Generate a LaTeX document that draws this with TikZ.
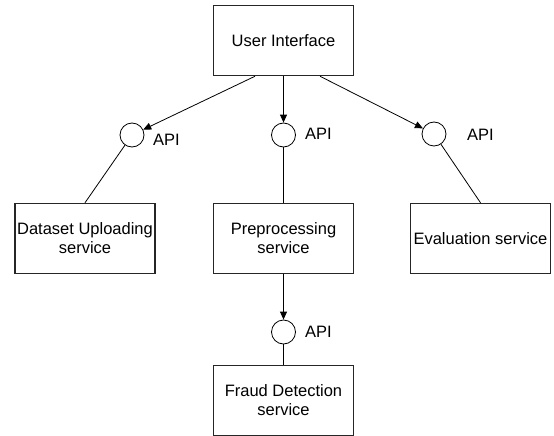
\documentclass[tikz,border=0pt]{standalone}
\usepackage{fontspec}
\setmainfont{Liberation Sans}
\usetikzlibrary{arrows.meta,positioning}
\tikzset{servicebox/.style={
    % The shape:
    rectangle,minimum width=140pt,minimum height=70pt,inner sep=0pt,
    % The rest
    line width=1.5pt,draw=black!85,fill=white,
    align=center,font=\fontsize{16.5}{19}\selectfont
  },
  apiport/.style={
    circle,draw,fill=white,minimum size=24pt,inner sep=0pt,line width=0.8pt
  },
  apilabel/.style={anchor=west,inner sep=0pt,font=\fontsize{16.5}{19}\selectfont},
  link/.style={line width=0.8pt},
  >={Triangle[length=8pt,width=7pt]}
}

\begin{document}
\begin{tikzpicture}[x=1pt,y=-1pt]
      \useasboundingbox (0,0) rectangle (554,436);

      % services
      \node (ui)     [servicebox] at (283.5,40.5) {User Interface};
      \node (upload) [servicebox] at (85,238.5) {Dataset Uploading\\service};
      \node (prep)   [servicebox] at (283.5,238.5) {Preprocessing\\service};
      \node (eval)   [servicebox] at (480.5,238.5) {Evaluation service};
      \node (fraud)  [servicebox] at (283.5,400.5) {Fraud Detection\\service};

      % interfaces
      \node (apiup)    [apiport] at (132,135) {};
      \node (apiprep)  [apiport] at (283.5,135) {};
      \node (apieval)  [apiport] at (434,134) {};
      \node (apifraud) [apiport] at (283.5,332) {};

      \node (lblup)    [apilabel] at (153,140) {API};
      \node (lblprep)  [apilabel] at (305,134) {API};
      \node (lbleval)  [apilabel] at (467,135) {API};
      \node (lblfraud) [apilabel] at (305,332) {API};

      \path ([xshift=-28.5pt]ui.south) edge[link,->] (apiup);
      \path (ui) edge[link,->] (apiprep);
      \path ([xshift=36.5pt]ui.south) edge[link,->] (apieval);
      \path (prep) edge[link,->] (apifraud);

      \path (apiup) edge[link] (upload.north);
      \path (apiprep) edge[link] (prep);
      \path (apieval) edge[link] (eval.north);
      \path (apifraud) edge[link] (fraud);
    \end{tikzpicture}
\end{document}
